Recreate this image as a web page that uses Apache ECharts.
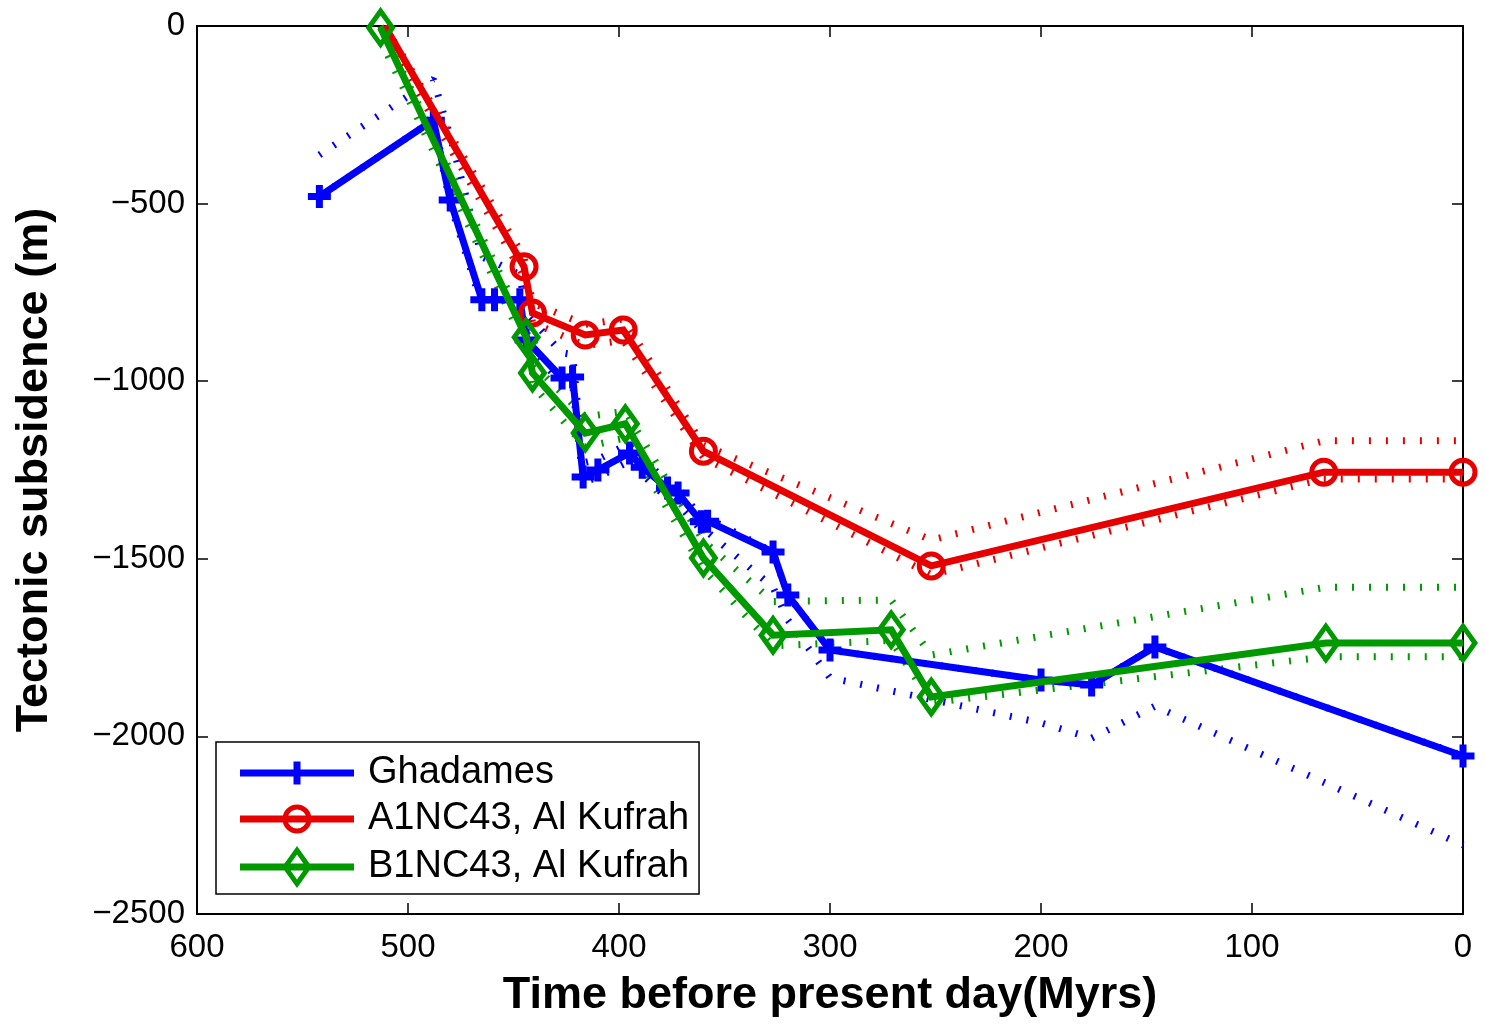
<!DOCTYPE html>
<html>
<head>
<meta charset="utf-8">
<script src="https://cdn.jsdelivr.net/npm/echarts@6/dist/echarts.min.js"></script>
<style>
html,body{margin:0;padding:0;background:#fff;}
#chart{width:1486px;height:1024px;}
</style>
</head>
<body>
<div id="chart"></div>
<script>
// ---- Data (time before present in Myrs, tectonic subsidence in m) ----
const xTicks = [0, 100, 200, 300, 400, 500, 600];
const yTicks = [-2500, -2000, -1500, -1000, -500, 0];

const ghadT = [542, 488, 480, 465, 459, 447, 444, 427, 422, 417, 410, 395, 389, 377, 372, 361, 358, 327, 320, 300, 200, 176, 146, 0];
const ghadV = [-480, -265, -490, -771, -771, -771, -884, -991, -988, -1270, -1250, -1202, -1242, -1301, -1315, -1396, -1394, -1481, -1602, -1757, -1841, -1855, -1748, -2055];
const ghadUpper = [-363, -150, -310, -650, -665, -700, -810, -920, -925, -1230, -1220, -1175, -1215, -1285, -1300, -1385, -1385, -1481, -1602, -1757, -1841, -1855, -1748, -2055];
const ghadLower = [-480, -265, -500, -785, -785, -785, -900, -1005, -1005, -1285, -1270, -1225, -1262, -1330, -1345, -1420, -1425, -1580, -1672, -1835, -1962, -2005, -1915, -2306];

const redT = [511, 445, 441, 416, 398, 360, 252, 66, 0];
const redV = [0, -678, -808, -870, -856, -1197, -1520, -1256, -1256];
const redUpper = [0, -650, -780, -840, -825, -1180, -1447, -1168, -1168];
const redLower = [-25, -705, -835, -900, -885, -1215, -1545, -1275, -1275];
const redNoMarker = [0];   // indices drawn without a marker (start of the curve)

const greenT = [513, 444, 441, 416, 397, 360, 327, 271, 252, 65, 0];
const greenV = [-5, -876, -977, -1146, -1120, -1498, -1715, -1700, -1889, -1737, -1737];
const greenUpper = [0, -850, -950, -1100, -1085, -1450, -1620, -1616, -1771, -1580, -1580];
const greenLower = [-40, -905, -1010, -1185, -1160, -1530, -1745, -1730, -1905, -1776, -1776];

const names = ['Ghadames', 'A1NC43, Al Kufrah', 'B1NC43, Al Kufrah'];
// --------------------------------------------------------------------

const BLUE = '#0000ff', RED = '#e60000', GREEN = '#009900';
const FONT = '"Liberation Sans", Arial, Helvetica, sans-serif';

const zip = (t, v, noMarker) => t.map((x, i) =>
  (noMarker && noMarker.indexOf(i) >= 0) ? { value: [x, v[i]], symbol: 'none' } : [x, v[i]]);

const plusSym = 'path://M-3.5,-11.5H3.5V-3.5H11.5V3.5H3.5V11.5H-3.5V3.5H-11.5V-3.5H-3.5Z';
const ringSym = 'path://M0,-14.5A14.5,14.5 0 1,1 0,14.5A14.5,14.5 0 1,1 0,-14.5ZM0,-9.5A9.5,9.5 0 1,0 0,9.5A9.5,9.5 0 1,0 0,-9.5Z';
const diamSym = 'path://M0,-21L15,0L0,21L-15,0ZM0,-12.4L-8.86,0L0,12.4L8.86,0Z';

const bar = 'M0,-3.5H114V3.5H0Z';
const pad = 'M123,0L123,0Z';
const plusIcon = 'path://' + bar + 'M53.5,-11.5H60.5V-3.5H68.5V3.5H60.5V11.5H53.5V3.5H45.5V-3.5H53.5Z' + pad;
const ringIcon = 'path://' + bar + 'M57,-14.5A14.5,14.5 0 1,1 57,14.5A14.5,14.5 0 1,1 57,-14.5ZM57,-9.5A9.5,9.5 0 1,0 57,9.5A9.5,9.5 0 1,0 57,-9.5Z' + pad;
const diamIcon = 'path://' + bar + 'M57,-21L72,0L57,21L42,0ZM57,-12.4L48.14,0L57,12.4L65.86,0Z' + pad;

function band(name, t, v, color) {
  return {
    name: name, type: 'line', data: zip(t, v), symbol: 'none', silent: true,
    clip: false, z: 2, animation: false,
    lineStyle: { color: color, width: 7, type: [2, 15], cap: 'butt' },
    emphasis: { disabled: true }
  };
}
function main(name, t, v, color, sym, size, z, noMarker) {
  return {
    name: name, type: 'line', data: zip(t, v, noMarker), symbol: sym, symbolSize: size,
    showAllSymbol: true, clip: false, z: z, animation: false,
    lineStyle: { color: color, width: 7, join: 'miter' },
    itemStyle: { color: color, borderWidth: 0 },
    emphasis: { disabled: true }
  };
}

const axisCommon = {
  type: 'value',
  axisLine: { show: true, onZero: false, lineStyle: { color: '#000', width: 2 } },
  axisTick: { show: true, inside: true, length: 11, lineStyle: { color: '#000', width: 1.5 } },
  splitLine: { show: false }
};

const chart = echarts.init(document.getElementById('chart'), null, { renderer: 'canvas' });
chart.setOption({
  animation: false,
  backgroundColor: '#fff',
  grid: { left: 197, right: 23, top: 26, bottom: 110, containLabel: false },
  xAxis: [
    Object.assign({}, axisCommon, {
      position: 'bottom', min: xTicks[0], max: xTicks[xTicks.length - 1], interval: 100, inverse: true,
      axisLabel: { color: '#000', fontSize: 33, fontFamily: FONT, margin: 17 },
      name: 'Time before present day(Myrs)', nameLocation: 'middle', nameGap: 59,
      nameTextStyle: { color: '#000', fontSize: 45, fontWeight: 'bold', fontFamily: FONT }
    }),
    Object.assign({}, axisCommon, {
      position: 'top', min: xTicks[0], max: xTicks[xTicks.length - 1], interval: 100, inverse: true,
      axisLabel: { show: false }
    })
  ],
  yAxis: [
    Object.assign({}, axisCommon, {
      position: 'left', min: yTicks[0], max: yTicks[yTicks.length - 1], interval: 500,
      axisLabel: { color: '#000', fontSize: 33, fontFamily: FONT, margin: 12,
        formatter: v => String(v).replace('-', '\u2212') },
      name: 'Tectonic subsidence (m)', nameLocation: 'middle', nameGap: 140, nameRotate: 90,
      nameTextStyle: { color: '#000', fontSize: 45, fontWeight: 'bold', fontFamily: FONT }
    }),
    Object.assign({}, axisCommon, {
      position: 'right', min: yTicks[0], max: yTicks[yTicks.length - 1], interval: 500,
      axisLabel: { show: false }
    })
  ],
  legend: {
    orient: 'vertical', left: 216, top: 742,
    padding: [12, 10, 6, 24],
    itemWidth: 123, itemHeight: 42, itemGap: 8,
    symbolKeepAspect: true,
    backgroundColor: '#fff', borderColor: '#000', borderWidth: 1.5,
    selectedMode: false,
    textStyle: { color: '#000', fontSize: 38, fontFamily: FONT },
    itemStyle: { borderWidth: 0 },
    data: [
      { name: names[0], icon: plusIcon },
      { name: names[1], icon: ringIcon },
      { name: names[2], icon: diamIcon }
    ]
  },
  series: [
    band('Ghadames upper', ghadT, ghadUpper, BLUE),
    band('Ghadames lower', ghadT, ghadLower, BLUE),
    band('A1NC43 upper', redT, redUpper, RED),
    band('A1NC43 lower', redT, redLower, RED),
    band('B1NC43 upper', greenT, greenUpper, GREEN),
    band('B1NC43 lower', greenT, greenLower, GREEN),
    main(names[0], ghadT, ghadV, BLUE, plusSym, 23, 5),
    main(names[1], redT, redV, RED, ringSym, 29, 6, redNoMarker),
    main(names[2], greenT, greenV, GREEN, diamSym, [30, 42], 7)
  ]
});
</script>
</body>
</html>
